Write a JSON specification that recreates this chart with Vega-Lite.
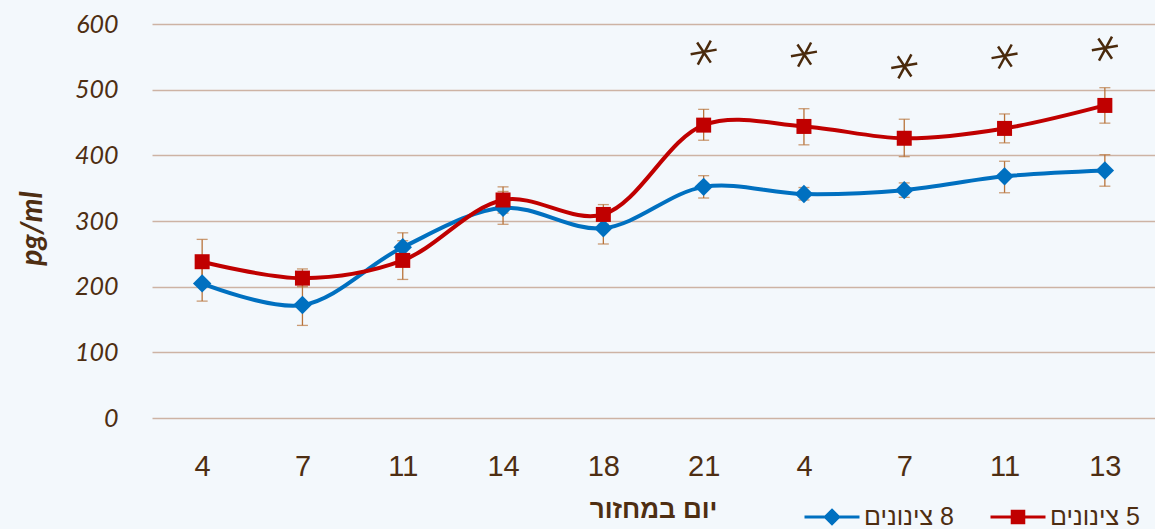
{
  "$schema": "https://vega.github.io/schema/vega-lite/v6.json",
  "width": 1003,
  "height": 394,
  "autosize": {"type": "none"},
  "padding": {"left": 152, "top": 24, "right": 0, "bottom": 111},
  "background": "#F3F8FC",
  "config": {"view": {"stroke": null}, "font": "Liberation Sans"},
  "datasets": {
    "main": [
      {"i": 0, "group": "8 צינונים", "value": 205, "lo": 178, "hi": 231},
      {"i": 1, "group": "8 צינונים", "value": 172, "lo": 141, "hi": 203},
      {"i": 2, "group": "8 צינונים", "value": 260, "lo": 240, "hi": 282},
      {"i": 3, "group": "8 צינונים", "value": 320, "lo": 295, "hi": 345},
      {"i": 4, "group": "8 צינונים", "value": 289, "lo": 265, "hi": 313},
      {"i": 5, "group": "8 צינונים", "value": 352, "lo": 335, "hi": 369},
      {"i": 6, "group": "8 צינונים", "value": 341, "lo": 332, "hi": 351},
      {"i": 7, "group": "8 צינונים", "value": 347, "lo": 336, "hi": 358},
      {"i": 8, "group": "8 צינונים", "value": 368, "lo": 343, "hi": 391},
      {"i": 9, "group": "8 צינונים", "value": 377, "lo": 353, "hi": 401},
      {"i": 0, "group": "5 צינונים", "value": 238, "lo": 204, "hi": 272},
      {"i": 1, "group": "5 צינונים", "value": 213, "lo": 200, "hi": 227},
      {"i": 2, "group": "5 צינונים", "value": 240, "lo": 211, "hi": 270},
      {"i": 3, "group": "5 צינונים", "value": 332, "lo": 312, "hi": 352},
      {"i": 4, "group": "5 צינונים", "value": 310, "lo": 295, "hi": 325},
      {"i": 5, "group": "5 צינונים", "value": 446, "lo": 423, "hi": 470},
      {"i": 6, "group": "5 צינונים", "value": 444, "lo": 416, "hi": 471},
      {"i": 7, "group": "5 צינונים", "value": 426, "lo": 398, "hi": 455},
      {"i": 8, "group": "5 צינונים", "value": 441, "lo": 419, "hi": 463},
      {"i": 9, "group": "5 צינונים", "value": 476, "lo": 449, "hi": 503}
    ],
    "stars": [
      {"i": 5, "y": 557},
      {"i": 6, "y": 554},
      {"i": 7, "y": 536},
      {"i": 8, "y": 551},
      {"i": 9, "y": 563}
    ]
  },
  "encoding": {
    "x": {
      "field": "i",
      "type": "ordinal",
      "scale": {"type": "point", "padding": 0.5},
      "axis": {
        "labelExpr": "['4','7','11','14','18','21','4','7','11','13'][datum.value]",
        "labelAngle": 0,
        "labelFont": "Liberation Sans",
        "labelFontSize": 29,
        "labelColor": "#4E2E12",
        "labelBaseline": "alphabetic",
        "labelPadding": 57,
        "domain": false,
        "ticks": false,
        "grid": false,
        "title": "יום במחזור",
        "titleFont": "Liberation Sans",
        "titleFontSize": 26,
        "titleFontWeight": "bold",
        "titleColor": "#4E2E12",
        "titleX": 501,
        "titleY": 99,
        "titleAlign": "center",
        "titleBaseline": "alphabetic"
      }
    }
  },
  "layer": [
    {
      "data": {"name": "main"},
      "mark": {"type": "rule", "color": "#B8733A", "strokeWidth": 1.3},
      "encoding": {
        "y": {
          "field": "lo",
          "type": "quantitative",
          "scale": {"domain": [0, 600], "nice": false},
          "axis": {
            "values": [0, 100, 200, 300, 400, 500, 600],
            "grid": true,
            "gridColor": "#CDB3A4",
            "gridWidth": 1.5,
            "domain": false,
            "ticks": false,
            "labelPadding": 34,
            "labelFont": "Lato",
            "labelFontStyle": "italic",
            "labelFontSize": 25,
            "labelColor": "#4E2E12",
            "title": "pg/ml",
            "titleFont": "Lato",
            "titleFontStyle": "italic",
            "titleFontWeight": "bold",
            "titleFontSize": 30,
            "titleColor": "#4E2E12",
            "titleAngle": -90,
            "titleX": -105,
            "titleY": 204,
            "titleAlign": "center",
            "titleBaseline": "bottom"
          }
        },
        "y2": {"field": "hi"}
      }
    },
    {
      "data": {"name": "main"},
      "mark": {"type": "tick", "color": "#B8733A", "thickness": 1.3, "size": 11},
      "encoding": {"y": {"field": "lo", "type": "quantitative"}}
    },
    {
      "data": {"name": "main"},
      "mark": {"type": "tick", "color": "#B8733A", "thickness": 1.3, "size": 11},
      "encoding": {"y": {"field": "hi", "type": "quantitative"}}
    },
    {
      "data": {"name": "main"},
      "mark": {"type": "line", "interpolate": "catmull-rom", "strokeWidth": 4},
      "encoding": {
        "y": {"field": "value", "type": "quantitative"},
        "color": {
          "field": "group",
          "type": "nominal",
          "scale": {"domain": ["8 צינונים", "5 צינונים"], "range": ["#0070C0", "#C00000"]},
          "legend": {
            "orient": "none",
            "legendX": 651,
            "legendY": 464,
            "direction": "horizontal",
            "title": null,
            "padding": 0,
            "symbolSize": 3025,
            "symbolStrokeWidth": 3,
            "labelFontSize": 25,
            "labelColor": "#4E2E12",
            "labelFont": "Liberation Sans",
            "labelOffset": 3,
            "columnPadding": 30,
            "labelExpr": "datum.value == '8 צינונים' ? 'צינונים \u200e8' : 'צינונים \u200e5'",
            "encode": {
              "symbols": {
                "update": {
                  "shape": {"signal": "datum.value == '8 צינונים' ? 'M-1,0L1,0M0,-0.24L0.24,0L0,0.24L-0.24,0Z' : 'M-1,0L1,0M-0.21,-0.21L0.21,-0.21L0.21,0.21L-0.21,0.21Z'"},
                  "fill": {"signal": "datum.value == '8 צינונים' ? '#0070C0' : '#C00000'"},
                  "stroke": {"signal": "datum.value == '8 צינונים' ? '#0070C0' : '#C00000'"},
                  "strokeWidth": {"value": 3},
                  "opacity": {"value": 1},
                  "fillOpacity": {"value": 1}
                }
              }
            }
          }
        }
      }
    },
    {
      "data": {"name": "main"},
      "mark": {"type": "point", "filled": true, "opacity": 1, "strokeWidth": 0},
      "encoding": {
        "y": {"field": "value", "type": "quantitative"},
        "fill": {
          "condition": {"test": "datum.group == '5 צינונים'", "value": "#C00000"},
          "value": "#0070C0"
        },
        "shape": {
          "condition": {"test": "datum.group == '5 צינונים'", "value": "square"},
          "value": "diamond"
        },
        "size": {
          "condition": {"test": "datum.group == '5 צינונים'", "value": 225},
          "value": 340
        }
      }
    },
    {
      "data": {"name": "stars"},
      "mark": {
        "type": "point",
        "filled": false,
        "shape": "M-1,0.15L1,-0.2M-0.5,-0.75L0.55,0.8M0.55,-0.9L-0.45,0.95",
        "size": 676,
        "stroke": "#4A2A0C",
        "strokeWidth": 2.5,
        "opacity": 1
      },
      "encoding": {
        "y": {"field": "y", "type": "quantitative"}
      }
    }
  ]
}
